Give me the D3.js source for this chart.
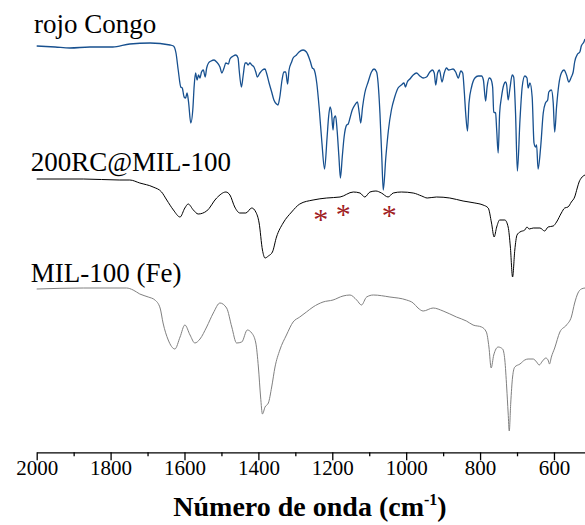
<!DOCTYPE html>
<html>
<head>
<meta charset="utf-8">
<script src="https://cdn.jsdelivr.net/npm/d3@7"></script>
<style>
  body { margin: 0; background: #fff; }
  svg { display: block; font-family: "Liberation Serif", "Times New Roman", serif; }
</style>
</head>
<body>
<svg id="chart" width="585" height="525"></svg>
<script>
// spectra: [wavenumber (cm-1), transmittance (a.u., offset)]
let rojoCongo = [[2000,406],[1950,405],[1910,404],[1856,405],[1794,405],[1748,408],[1693,409],[1639,407],[1630,406],[1623,399],[1617,382],[1610,365],[1606,364],[1601,355],[1597,354],[1593,359],[1589,350],[1583,329],[1577,345],[1574,365],[1570,379],[1566,372],[1562,377],[1558,374],[1554,380],[1549,382],[1544,375],[1540,384],[1535,389],[1528,391],[1520,392],[1513,390],[1504,385],[1499,379],[1493,384],[1488,389],[1481,388],[1477,393],[1468,396],[1461,397],[1455,394],[1452,382],[1446,365],[1441,377],[1436,389],[1432,389],[1428,387],[1423,389],[1418,387],[1412,385],[1407,380],[1403,375],[1396,379],[1389,382],[1382,383],[1378,379],[1371,369],[1364,360],[1358,352],[1351,348],[1347,347],[1342,355],[1336,372],[1331,380],[1326,380],[1321,368],[1317,382],[1310,390],[1306,394],[1297,397],[1290,400],[1279,402],[1270,400],[1259,390],[1254,384],[1250,383],[1242,369],[1235,342],[1228,309],[1221,283],[1214,315],[1210,335],[1206,345],[1202,339],[1198,322],[1195,334],[1191,336],[1187,322],[1182,295],[1178,274],[1173,295],[1168,315],[1161,327],[1157,328],[1152,334],[1146,342],[1139,347],[1132,350],[1127,339],[1123,329],[1118,345],[1112,359],[1103,370],[1094,380],[1087,383],[1080,380],[1076,369],[1071,339],[1066,295],[1062,262],[1055,295],[1048,322],[1040,342],[1031,355],[1022,364],[1013,367],[1006,369],[1002,365],[997,370],[990,373],[981,377],[972,379],[963,376],[954,374],[945,375],[936,380],[929,382],[924,379],[920,367],[915,379],[910,382],[903,370],[897,379],[891,384],[885,382],[873,383],[866,380],[859,374],[852,381],[847,379],[843,362],[839,339],[834,321],[830,349],[823,365],[814,374],[805,376],[796,376],[791,372],[785,351],[781,365],[775,374],[771,373],[766,365],[763,340],[758,339],[755,322],[751,299],[747,339],[742,355],[736,367],[731,370],[728,367],[724,352],[719,364],[713,377],[709,375],[704,339],[699,281],[692,332],[686,365],[679,376],[673,374],[670,364],[665,369],[659,355],[654,309],[650,305],[647,307],[643,283],[636,305],[629,339],[623,349],[617,352],[614,360],[607,362],[602,349],[598,320],[593,345],[587,367],[580,379],[573,382],[566,377],[560,370],[553,375],[548,380],[544,390],[536,398],[530,400],[526,406],[519,410],[516,413]]

let rcMil = [[2000,273],[1874,273],[1775,272],[1748,272],[1721,269],[1685,265],[1662,260],[1648,252],[1630,242],[1612,235],[1599,244],[1590,248],[1576,242],[1563,238],[1540,241],[1513,254],[1488,260],[1477,257],[1464,245],[1450,239],[1434,239],[1418,244],[1407,240],[1398,229],[1389,202],[1382,194],[1373,196],[1362,200],[1351,215],[1333,229],[1310,240],[1288,248],[1252,252],[1215,254],[1179,255],[1143,260],[1125,259],[1112,255],[1098,260],[1082,261],[1067,259],[1049,255],[1035,259],[1013,260],[981,259],[958,256],[943,254],[918,255],[882,254],[846,251],[814,249],[792,247],[778,244],[769,229],[762,215],[755,225],[747,232],[733,232],[724,225],[718,205],[712,175],[706,202],[700,217],[692,220],[679,222],[673,225],[667,223],[656,224],[638,224],[625,221],[616,225],[602,226],[593,230],[580,239],[571,244],[562,245],[553,250],[544,255],[537,264],[532,270],[526,274],[516,277]]

let mil100 = [[2000,163],[1874,164],[1757,164],[1739,162],[1721,158],[1698,155],[1680,152],[1666,144],[1658,129],[1644,112],[1626,103],[1612,115],[1599,127],[1585,117],[1572,109],[1558,113],[1540,125],[1522,139],[1504,149],[1486,144],[1472,125],[1459,109],[1445,110],[1430,122],[1418,119],[1407,109],[1400,85],[1394,55],[1389,38],[1382,45],[1373,49],[1364,65],[1355,85],[1342,102],[1324,117],[1306,130],[1288,135],[1270,140],[1252,145],[1225,150],[1198,152],[1171,156],[1152,157],[1134,152],[1121,147],[1107,155],[1089,157],[1044,155],[999,152],[981,149],[968,144],[954,141],[927,144],[900,141],[864,135],[837,131],[819,127],[796,125],[783,120],[776,105],[770,84],[763,97],[751,105],[739,103],[733,92],[728,65],[724,39],[721,21],[717,49],[712,75],[706,85],[692,88],[679,92],[670,93],[656,93],[647,90],[640,87],[631,91],[622,94],[616,92],[612,88],[607,95],[598,104],[584,120],[566,127],[553,135],[544,149],[535,159],[526,163],[516,164]]

let seriesNames = ["rojo Congo", "200RC@MIL-100", "MIL-100 (Fe)"]
let seriesColors = ["#17508f", "#000000", "#808080"]

// asterisks marking RC bands in the composite
let starWave = [1231, 1170, 1046]
let starT = [237, 242, 241]

let majorTicks = [2000, 1800, 1600, 1400, 1200, 1000, 800, 600]
let minorTicks = [1900, 1700, 1500, 1300, 1100, 900, 700]

let svg = d3.select("#chart")

let x = d3.scaleLinear().domain([2000, 516]).range([36.7, 585])
let y = d3.scaleLinear().domain([0, 440]).range([452, 12])

svg.append("defs").append("clipPath").attr("id", "clip")
    .append("rect").attr("x", 36).attr("y", 0).attr("width", 549).attr("height", 452)

let line = d3.line()
    .x(d => x(d[0]))
    .y(d => y(d[1]))
    .curve(d3.curveMonotoneX)

let allSeries = [rojoCongo, rcMil, mil100]

svg.append("g").attr("clip-path", "url(#clip)")
    .selectAll("path")
    .data(allSeries)
    .enter()
    .append("path")
    .attr("d", d => line(d))
    .attr("fill", "none")
    .attr("stroke", (d, i) => seriesColors[i])
    .attr("stroke-width", (d, i) => i === 0 ? 1.3 : 1)

// series labels
let labelPos = [[34, 33], [30.7, 170.7], [30.7, 281.7]]
svg.selectAll(".series-label")
    .data(seriesNames)
    .enter()
    .append("text")
    .attr("class", "series-label")
    .attr("x", (d, i) => labelPos[i][0])
    .attr("y", (d, i) => labelPos[i][1])
    .style("font-size", "27px")
    .text(d => d)

svg.selectAll(".star")
    .data(starWave)
    .enter()
    .append("text")
    .attr("class", "star")
    .attr("x", d => x(d))
    .attr("y", (d, i) => y(starT[i]) + 14)
    .attr("text-anchor", "middle")
    .attr("fill", "#a0201f")
    .style("font-size", "30px")
    .text("*")

// x axis
let axisY = 452.3
let minorAxis = svg.append("g")
    .attr("transform", "translate(0," + axisY + ")")
    .call(d3.axisBottom(x).tickValues(minorTicks).tickSize(4).tickSizeOuter(0).tickFormat(""))
minorAxis.select(".domain").remove()

let majorAxis = svg.append("g")
    .attr("transform", "translate(0," + axisY + ")")
    .attr("font-family", "Liberation Serif")
    .call(d3.axisBottom(x).tickValues(majorTicks).tickSize(8).tickSizeOuter(0).tickPadding(0).tickFormat(d3.format("d")))

svg.selectAll(".tick line").attr("stroke", "#000").attr("stroke-width", 1.3)
majorAxis.select(".domain").attr("stroke-width", 1.3)
majorAxis.attr("font-family", "Liberation Serif")
majorAxis.selectAll("text")
    .style("font-family", "'Liberation Serif', serif")
    .style("font-size", "21px")
    .attr("fill", "#000")

let title = svg.append("text")
    .attr("x", 310)
    .attr("y", 516)
    .attr("text-anchor", "middle")
    .style("font-size", "28px")
    .style("font-weight", "bold")

title.append("tspan").text("Número de onda (cm")
title.append("tspan").attr("dy", -11).style("font-size", "16px").text("-1")
title.append("tspan").attr("dy", 11).text(")")
</script>
</body>
</html>
